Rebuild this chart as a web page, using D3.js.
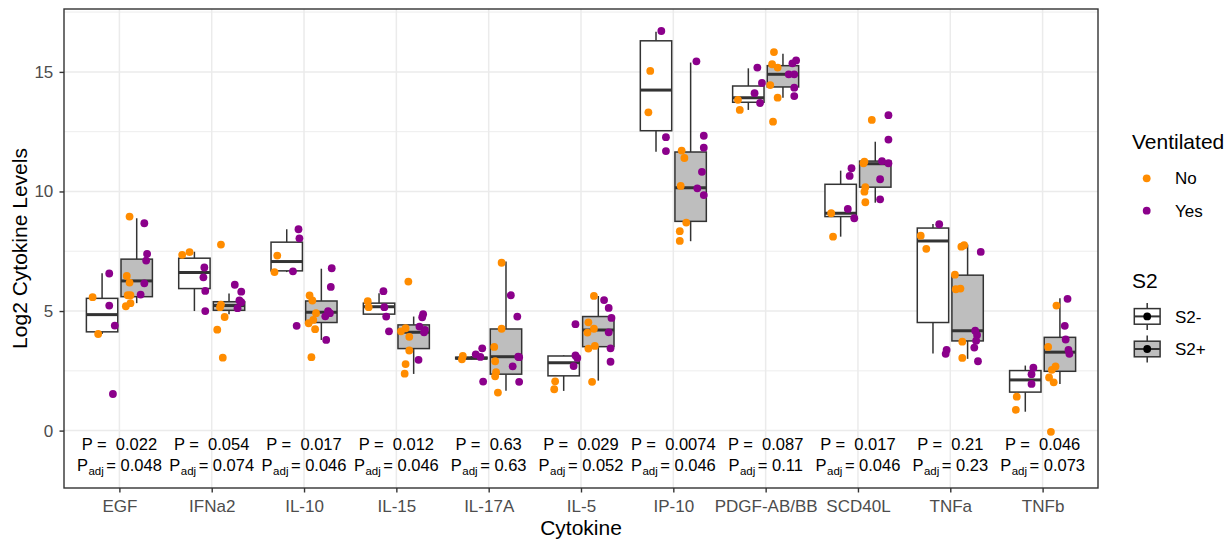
<!DOCTYPE html>
<html>
<head>
<meta charset="utf-8">
<script src="https://cdn.jsdelivr.net/npm/d3@7"></script>
<style>
  body { margin: 0; background: #fff; }
  text { font-family: "Liberation Sans", Arial, sans-serif; }
</style>
</head>
<body>
<svg id="chart" width="1232" height="540"></svg>
<script>
var categories = ["EGF", "IFNa2", "IL-10", "IL-15", "IL-17A", "IL-5", "IP-10", "PDGF-AB/BB", "SCD40L", "TNFa", "TNFb"];
var pValues = ["0.022", "0.054", "0.017", "0.012", "0.63", "0.029", "0.0074", "0.087", "0.017", "0.21", "0.046"];
var pAdjValues = ["0.048", "0.074", "0.046", "0.046", "0.63", "0.052", "0.046", "0.11", "0.046", "0.23", "0.073"];
var yTicks = [0, 5, 10, 15];
var yMinor = [2.5, 7.5, 12.5, 17.5];

// [lower whisker, q1, median, q3, upper whisker]
var boxS2neg = [
  [4.04, 4.13, 4.85, 5.53, 6.58],
  [5.00, 5.94, 6.61, 7.21, 7.48],
  [6.63, 6.68, 7.07, 7.88, 8.42],
  [4.84, 4.87, 5.18, 5.33, 5.74],
  [2.98, 3.00, 3.03, 3.07, 3.12],
  [1.66, 2.29, 2.84, 3.12, 3.15],
  [11.66, 12.54, 14.24, 16.30, 16.68],
  [13.41, 13.73, 13.92, 14.41, 15.15],
  [8.11, 8.95, 9.09, 10.30, 10.87],
  [3.22, 4.52, 7.93, 8.47, 8.64],
  [0.79, 1.61, 2.12, 2.51, 2.72]
];
var boxS2pos = [
  [5.33, 5.60, 6.26, 7.17, 8.88],
  [4.87, 5.03, 5.23, 5.39, 5.73],
  [3.79, 4.52, 4.95, 5.42, 6.77],
  [2.37, 3.43, 4.11, 4.42, 4.77],
  [1.67, 2.36, 3.09, 4.25, 7.07],
  [2.09, 3.51, 4.21, 4.77, 5.63],
  [7.92, 8.75, 10.16, 11.65, 15.39],
  [13.92, 14.37, 14.90, 15.26, 15.76],
  [9.53, 10.18, 11.16, 11.27, 12.08],
  [3.00, 3.75, 4.18, 6.50, 7.78],
  [1.95, 2.48, 3.28, 3.90, 5.53]
];

// [cytokine index, ventilated, jitter (in category steps), log2 level]
var jitterPoints = [
  [0,"No",-0.23,4.04],[0,"No",-0.29,5.58],[0,"Yes",-0.11,6.57],[0,"Yes",-0.11,5.23],[0,"Yes",-0.05,4.39],[0,"Yes",-0.07,1.53],
  [0,"No",0.11,8.95],[0,"Yes",0.27,8.67],[0,"Yes",0.30,7.39],[0,"Yes",0.29,7.11],[0,"No",0.08,6.47],[0,"No",0.11,6.19],
  [0,"Yes",0.27,6.16],[0,"No",0.09,5.66],[0,"No",0.12,5.66],[0,"Yes",0.23,5.69],[0,"No",0.07,5.20],[0,"No",0.12,5.33],

  [1,"No",-0.32,7.35],[1,"No",-0.24,7.46],[1,"Yes",-0.08,6.82],[1,"Yes",-0.09,6.41],[1,"Yes",-0.07,5.84],[1,"Yes",-0.07,5.00],
  [1,"No",0.10,7.78],[1,"Yes",0.25,6.10],[1,"Yes",0.32,5.81],[1,"Yes",0.30,5.44],[1,"Yes",0.32,5.37],[1,"No",0.10,5.27],
  [1,"No",0.09,5.16],[1,"Yes",0.28,5.12],[1,"No",0.14,4.75],[1,"No",0.06,4.22],[1,"No",0.12,3.05],

  [2,"Yes",-0.06,8.42],[2,"Yes",-0.05,8.04],[2,"No",-0.29,7.32],[2,"No",-0.32,6.63],[2,"Yes",-0.12,6.66],[2,"Yes",-0.08,4.38],
  [2,"Yes",0.30,6.79],[2,"Yes",0.29,6.01],[2,"No",0.06,5.65],[2,"No",0.09,5.44],[2,"No",0.13,4.91],[2,"Yes",0.26,4.99],
  [2,"Yes",0.28,4.91],[2,"Yes",0.23,4.78],[2,"No",0.10,4.63],[2,"No",0.05,4.49],[2,"No",0.12,4.24],[2,"Yes",0.24,3.79],[2,"No",0.08,3.07],

  [3,"Yes",-0.14,5.83],[3,"No",-0.31,5.41],[3,"No",-0.30,5.16],[3,"Yes",-0.13,5.16],[3,"Yes",-0.11,4.77],[3,"Yes",-0.08,4.15],
  [3,"No",0.13,6.23],[3,"Yes",0.29,4.87],[3,"Yes",0.28,4.74],[3,"Yes",0.25,4.35],[3,"Yes",0.31,4.21],[3,"Yes",0.30,4.11],
  [3,"No",0.10,4.28],[3,"No",0.05,4.15],[3,"No",0.14,3.92],[3,"No",0.14,3.35],[3,"Yes",0.24,2.96],[3,"No",0.10,2.78],[3,"No",0.09,2.38],

  [4,"No",-0.28,3.12],[4,"No",-0.29,2.98],[4,"Yes",-0.07,3.44],[4,"Yes",-0.14,3.19],[4,"Yes",-0.09,3.08],[4,"Yes",-0.06,2.05],
  [4,"No",0.14,7.02],[4,"Yes",0.24,5.66],[4,"Yes",0.31,4.77],[4,"No",0.14,4.26],[4,"No",0.06,3.50],[4,"Yes",0.32,3.09],
  [4,"Yes",0.33,3.07],[4,"No",0.07,2.90],[4,"Yes",0.26,2.69],[4,"No",0.08,2.44],[4,"No",0.07,2.27],[4,"Yes",0.33,2.04],[4,"No",0.10,1.59],

  [5,"Yes",-0.06,3.14],[5,"Yes",-0.04,3.04],[5,"Yes",-0.08,2.70],[5,"No",-0.28,2.06],[5,"No",-0.29,1.73],[5,"Yes",-0.06,4.45],
  [5,"No",0.14,5.63],[5,"Yes",0.25,5.46],[5,"Yes",0.30,5.13],[5,"Yes",0.33,4.71],[5,"No",0.08,4.53],[5,"No",0.14,4.26],
  [5,"No",0.07,4.10],[5,"Yes",0.30,4.11],[5,"No",0.15,3.54],[5,"No",0.08,3.43],[5,"Yes",0.32,3.44],[5,"Yes",0.32,2.88],[5,"No",0.12,2.04],

  [6,"Yes",-0.13,16.71],[6,"No",-0.25,15.04],[6,"No",-0.27,13.31],[6,"Yes",-0.08,12.27],[6,"Yes",-0.08,11.69],
  [6,"Yes",0.25,15.44],[6,"Yes",0.33,12.33],[6,"Yes",0.33,11.83],[6,"No",0.09,11.71],[6,"No",0.12,11.40],[6,"Yes",0.31,10.82],
  [6,"No",0.08,10.23],[6,"Yes",0.26,10.13],[6,"Yes",0.33,9.85],[6,"No",0.14,8.70],[6,"No",0.07,8.34],[6,"No",0.07,7.93],

  [7,"Yes",-0.09,15.18],[7,"Yes",-0.04,14.54],[7,"Yes",-0.12,14.11],[7,"No",-0.30,13.83],[7,"Yes",-0.06,13.70],[7,"No",-0.28,13.41],
  [7,"No",0.09,15.83],[7,"Yes",0.33,15.48],[7,"Yes",0.29,15.36],[7,"No",0.07,15.32],[7,"No",0.13,15.18],[7,"Yes",0.25,14.90],
  [7,"Yes",0.31,14.90],[7,"No",0.05,14.45],[7,"Yes",0.31,14.34],[7,"No",0.13,13.92],[7,"Yes",0.31,13.99],[7,"No",0.08,12.92],

  [8,"Yes",-0.07,10.97],[8,"Yes",-0.09,10.65],[8,"Yes",-0.11,9.27],[8,"No",-0.29,9.09],[8,"Yes",-0.04,8.88],[8,"No",-0.27,8.11],
  [8,"No",0.15,12.99],[8,"Yes",0.33,13.19],[8,"Yes",0.33,12.17],[8,"No",0.06,11.18],[8,"No",0.07,11.25],[8,"Yes",0.26,11.27],
  [8,"Yes",0.33,11.18],[8,"Yes",0.24,10.51],[8,"No",0.08,10.18],[8,"No",0.07,9.99],[8,"No",0.08,9.55],[8,"Yes",0.24,9.67],

  [9,"Yes",-0.12,8.63],[9,"No",-0.32,8.15],[9,"No",-0.26,7.60],[9,"Yes",-0.04,3.37],[9,"Yes",-0.05,3.21],
  [9,"No",0.12,7.69],[9,"No",0.15,7.75],[9,"Yes",0.33,7.47],[9,"No",0.05,6.52],[9,"No",0.06,5.91],[9,"No",0.11,5.94],
  [9,"Yes",0.27,4.18],[9,"Yes",0.29,4.00],[9,"No",0.13,3.72],[9,"Yes",0.28,3.76],[9,"Yes",0.26,3.47],[9,"No",0.13,3.04],[9,"Yes",0.30,2.90],

  [10,"Yes",-0.10,2.63],[10,"Yes",-0.12,2.36],[10,"Yes",-0.12,1.95],[10,"No",-0.28,1.42],[10,"No",-0.29,0.87],
  [10,"Yes",0.27,5.51],[10,"No",0.15,5.23],[10,"Yes",0.24,4.38],[10,"Yes",0.25,3.81],[10,"No",0.06,3.50],[10,"Yes",0.28,3.37],
  [10,"Yes",0.29,3.21],[10,"No",0.14,2.68],[10,"No",0.10,2.54],[10,"No",0.07,2.22],[10,"No",0.12,2.02],[10,"No",0.09,-0.05]
];

var ventColors = { "No": "#FF8C00", "Yes": "#8B008B" };
var s2Fills = { "S2-": "#FFFFFF", "S2+": "#BEBEBE" };

var panel = { left: 64, right: 1098, top: 9, bottom: 488 };
var svg = d3.select("#chart");

var x = d3.scalePoint()
  .domain(categories)
  .range([panel.left, panel.right])
  .padding(0.6);
var step = x.step();

var y = d3.scaleLinear()
  .domain([-2.4, 17.63])
  .range([panel.bottom, panel.top]);

// grid
var grid = svg.append("g");
grid.selectAll(".minor").data(yMinor.filter(function(d) { return y(d) > panel.top; }))
  .join("line")
  .attr("x1", panel.left).attr("x2", panel.right)
  .attr("y1", d => y(d)).attr("y2", d => y(d))
  .attr("stroke", "#ebebeb").attr("stroke-width", 0.9);
grid.selectAll(".major").data(yTicks)
  .join("line")
  .attr("x1", panel.left).attr("x2", panel.right)
  .attr("y1", d => y(d)).attr("y2", d => y(d))
  .attr("stroke", "#ebebeb").attr("stroke-width", 1.5);
grid.selectAll(".vert").data(categories)
  .join("line")
  .attr("x1", d => x(d)).attr("x2", d => x(d))
  .attr("y1", panel.top).attr("y2", panel.bottom)
  .attr("stroke", "#ebebeb").attr("stroke-width", 1.5);

// boxes
var boxes = [];
categories.forEach(function(c, i) {
  boxes.push({ cat: c, group: "S2-", side: -1, s: boxS2neg[i] });
  boxes.push({ cat: c, group: "S2+", side: 1, s: boxS2pos[i] });
});
var dodge = 0.1875, halfW = 0.17;

var bx = svg.append("g").selectAll("g").data(boxes).join("g");
bx.append("line")
  .attr("x1", d => x(d.cat) + d.side * dodge * step)
  .attr("x2", d => x(d.cat) + d.side * dodge * step)
  .attr("y1", d => y(d.s[0])).attr("y2", d => y(d.s[1]))
  .attr("stroke", "#333").attr("stroke-width", 1.5);
bx.append("line")
  .attr("x1", d => x(d.cat) + d.side * dodge * step)
  .attr("x2", d => x(d.cat) + d.side * dodge * step)
  .attr("y1", d => y(d.s[3])).attr("y2", d => y(d.s[4]))
  .attr("stroke", "#333").attr("stroke-width", 1.5);
bx.append("rect")
  .attr("x", d => x(d.cat) + (d.side * dodge - halfW) * step)
  .attr("width", 2 * halfW * step)
  .attr("y", d => y(d.s[3]))
  .attr("height", d => Math.max(0.5, y(d.s[1]) - y(d.s[3])))
  .attr("fill", d => s2Fills[d.group])
  .attr("stroke", "#333").attr("stroke-width", 1.5);
bx.append("line")
  .attr("x1", d => x(d.cat) + (d.side * dodge - halfW) * step)
  .attr("x2", d => x(d.cat) + (d.side * dodge + halfW) * step)
  .attr("y1", d => y(d.s[2])).attr("y2", d => y(d.s[2]))
  .attr("stroke", "#333").attr("stroke-width", 3);

// jittered points
svg.append("g").selectAll("circle").data(jitterPoints).join("circle")
  .attr("cx", d => x(categories[d[0]]) + d[2] * step)
  .attr("cy", d => y(d[3]))
  .attr("r", 3.9)
  .attr("fill", d => ventColors[d[1]]);

// p-value labels
var pl = svg.append("g").attr("font-size", 16.5).attr("fill", "#000").attr("text-anchor", "middle");
pl.selectAll(".p").data(categories).join("text")
  .attr("x", d => x(d)).attr("y", y(-0.81))
  .attr("xml:space", "preserve").style("white-space", "pre")
  .text((d, i) => "P =  " + pValues[i]);
var pa = pl.selectAll(".pa").data(categories).join("text")
  .attr("x", d => x(d)).attr("y", y(-1.68));
pa.append("tspan").text("P");
pa.append("tspan").attr("font-size", 11.5).attr("dy", 4).attr("dx", 0.5).text("adj");
pa.append("tspan").attr("dy", -4).attr("dx", 2.5).text((d, i) => "= " + pAdjValues[i]);

// panel border
svg.append("rect")
  .attr("x", panel.left).attr("y", panel.top)
  .attr("width", panel.right - panel.left).attr("height", panel.bottom - panel.top)
  .attr("fill", "none").attr("stroke", "#333").attr("stroke-width", 1.4);

// axes
var xAxis = svg.append("g")
  .attr("transform", "translate(0," + panel.bottom + ")")
  .call(d3.axisBottom(x).tickSize(4.5).tickPadding(7));
var yAxis = svg.append("g")
  .attr("transform", "translate(" + panel.left + ",0)")
  .call(d3.axisLeft(y).tickValues(yTicks).tickSize(4.5).tickPadding(6.2));
[xAxis, yAxis].forEach(function(a) {
  a.select(".domain").remove();
  a.attr("font-family", null).attr("font-size", 17);
  a.selectAll(".tick line").attr("stroke", "#333").attr("stroke-width", 1.4);
  a.selectAll(".tick text").attr("fill", "#4D4D4D");
});

// axis titles
svg.append("text")
  .attr("x", (panel.left + panel.right) / 2).attr("y", 535)
  .attr("text-anchor", "middle").attr("font-size", 21)
  .text("Cytokine");
svg.append("text")
  .attr("transform", "translate(26.7," + ((panel.top + panel.bottom) / 2) + ") rotate(-90)")
  .attr("text-anchor", "middle").attr("font-size", 21)
  .text("Log2 Cytokine Levels");

// legends
var lg = svg.append("g");
lg.append("text").attr("x", 1132).attr("y", 149.3).attr("font-size", 21).text("Ventilated");
var ventKeys = ["No", "Yes"];
var vk = lg.selectAll(".vk").data(ventKeys).join("g")
  .attr("transform", (d, i) => "translate(0," + (178.3 + i * 32.4) + ")");
vk.append("circle").attr("cx", 1146.7).attr("cy", 0).attr("r", 3.9).attr("fill", d => ventColors[d]);
vk.append("text").attr("x", 1175).attr("y", 6.1).attr("font-size", 17).text(d => d);

lg.append("text").attr("x", 1132).attr("y", 288.3).attr("font-size", 21).text("S2");
var s2Keys = ["S2-", "S2+"];
var sk = lg.selectAll(".sk").data(s2Keys).join("g")
  .attr("transform", (d, i) => "translate(0," + (316.4 + i * 32.6) + ")");
sk.append("line").attr("x1", 1147.2).attr("x2", 1147.2).attr("y1", -13.5).attr("y2", 13.5)
  .attr("stroke", "#333").attr("stroke-width", 1.5);
sk.append("rect").attr("x", 1134.3).attr("y", -7.8).attr("width", 25.8).attr("height", 15.6)
  .attr("fill", d => s2Fills[d]).attr("stroke", "#333").attr("stroke-width", 1.5);
sk.append("line").attr("x1", 1134.3).attr("x2", 1160.1).attr("y1", 0).attr("y2", 0)
  .attr("stroke", "#333").attr("stroke-width", 2);
sk.append("circle").attr("cx", 1147.2).attr("cy", 0).attr("r", 3.9).attr("fill", "#000");
sk.append("text").attr("x", 1175).attr("y", 6.1).attr("font-size", 17).text(d => d);
</script>
</body>
</html>
